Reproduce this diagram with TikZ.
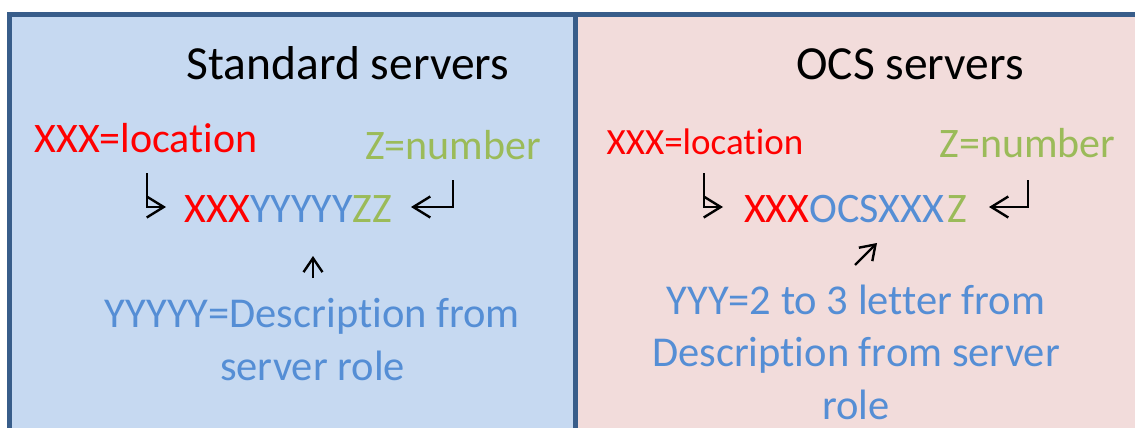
\documentclass[tikz,border=0pt]{standalone}
\usepackage{fontspec}
\setmainfont{Carlito}[Ligatures=NoCommon]
\usetikzlibrary{arrows.meta}

\definecolor{paneblue}{HTML}{C6D9F1}
\definecolor{panepink}{HTML}{F2DCDB}
\definecolor{paneline}{HTML}{385D8A}
\definecolor{txtred}{HTML}{FF0000}
\definecolor{txtgreen}{HTML}{9BBB59}
\definecolor{txtblue}{HTML}{558ED5}

\tikzset{
  txt/.style={inner sep=0, anchor=base},
  headtxt/.style={txt, font=\fontsize{47.5}{56}\selectfont},
  desctxt/.style={txt, txtblue, align=center, font=\fontsize{42.5}{52.5}\selectfont},
  bendarrow/.style={line width=2.4, -{Straight Barb[length=17, width=21]}},
  smallarrow/.style={line width=2.4, -{Straight Barb[length=14, width=19]}}
}

\begin{document}
\begin{tikzpicture}[x=1pt, y=-1pt]
\useasboundingbox (0,0) rectangle (1135,428);
\clip (0,0) rectangle (1135,428);

% the two panels
\fill[paneblue] (9.5,14.5) rectangle (575.5,450);
\fill[panepink] (575.5,14.5) rectangle (1150,450);
\draw[paneline, line width = 5] (9.5,14.5) rectangle (1150,450);
\draw[paneline, line width = 5] (575.5,14.5) -- (575.5,450);

\begin{scope}
\node[headtxt] (stdtitle) at (348,80) {Standard servers};
\node[txt, txtred, font=\fontsize{42}{50}\selectfont] (stdloc) at (146,152) {XXX=location};
\node[txt, txtgreen, font=\fontsize{42}{50}\selectfont] (stdnum) at (453,159) {Z=number};
\node[txt, font=\fontsize{42}{50}\selectfont] (stdname) at (288.5,222)
  {\textcolor{txtred}{XXX}\textcolor{txtblue}{YYYYY}\textcolor{txtgreen}{ZZ}};
% base of a two-line node is the last line
\node[desctxt] (stddesc) at (312.5,380) {YYYYY=Description from\\server role};
\coordinate (stdlocA) at (147,173);
\coordinate (stdlocB) at (166,207);
\coordinate (stdnumA) at (453,180);
\coordinate (stdnumB) at (411,207);
\coordinate (stddescA) at (313,278);
\coordinate (stddescB) at (313,256);
\draw[bendarrow] (stdlocA) |- (stdlocB);
\draw[bendarrow] (stdnumA) |- (stdnumB);
\draw[smallarrow] (stddescA) -- (stddescB);
\end{scope}

\begin{scope}
\node[headtxt] (ocstitle) at (910,80) {OCS servers};
\node[txt, txtred, font=\fontsize{37}{44}\selectfont] (ocsloc) at (705,154) {XXX=location};
\node[txt, txtgreen, font=\fontsize{42}{50}\selectfont] (ocsnum) at (1027.5,157) {Z=number};
\node[txt, font=\fontsize{42}{50}\selectfont] (ocsname) at (855.5,222)
  {\textcolor{txtred}{XXX}\textcolor{txtblue}{OCSXXX}\hspace{3pt}\textcolor{txtgreen}{Z}};
\node[desctxt] (ocsdesc) at (856,419)
  {YYY=2 to 3 letter from\\Description from server\\role};
\coordinate (ocslocA) at (704,173);
\coordinate (ocslocB) at (723,207);
\coordinate (ocsnumA) at (1028,180);
\coordinate (ocsnumB) at (989,207);
\coordinate (ocsdescA) at (855,265);
\coordinate (ocsdescB) at (877,243);
\draw[bendarrow] (ocslocA) |- (ocslocB);
\draw[bendarrow] (ocsnumA) |- (ocsnumB);
\draw[smallarrow] (ocsdescA) -- (ocsdescB);
\end{scope}
\end{tikzpicture}
\end{document}
